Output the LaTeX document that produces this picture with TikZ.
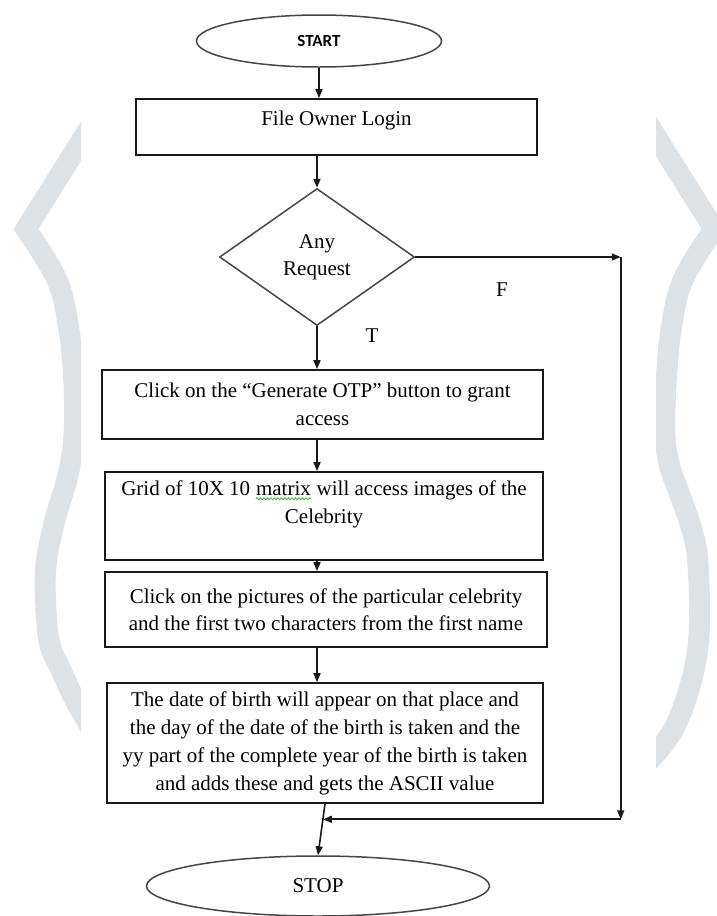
\documentclass[tikz,border=0pt]{standalone}
\usepackage{fontspec}
\setmainfont{Liberation Serif}
\newfontfamily\calfont{Carlito}
\usetikzlibrary{arrows.meta,calc,shapes.geometric,decorations.pathmorphing}
\definecolor{fLine}{RGB}{25,25,25}
\definecolor{fEdge}{RGB}{70,70,70}
\definecolor{fBand}{RGB}{221,226,230}
\definecolor{fSquig}{RGB}{70,175,70}
\newcommand{\squig}[1]{\tikz[baseline=(sq.base)]{%
  \node[draw=none, shape=rectangle, minimum size=0pt, inner sep=0pt] (sq) {#1};
  \draw[fSquig, line width=0.8pt, decorate,
        decoration={snake, amplitude=1pt, segment length=3.5pt}]
    ([yshift=-2.5pt]sq.south west) -- ([yshift=-2.5pt]sq.south east);}}
\tikzset{
  proc/.style={rectangle, draw=fLine, line width=1.7pt, align=center,
               font=\fontsize{21}{27.5}\selectfont, inner sep=0pt},
  decision/.style={diamond, draw=fEdge, line width=1.5pt, align=center,
                   inner sep=0pt, font=\fontsize{21}{27}\selectfont},
  term/.style={ellipse, draw=fEdge, line width=1.5pt, inner sep=0pt},
  flow/.style={-{Triangle[length=9pt,width=7pt]}, draw=fLine, line width=1.6pt},
  lbl/.style={font=\fontsize{21}{24}\selectfont, inner sep=0pt},
  band/.style={draw=fBand, line width=21pt, line join=miter, miter limit=6},
}

\begin{document}
\begin{tikzpicture}[x=1pt, y=-1pt]
  \useasboundingbox (0,0) rectangle (717,916);
  % page border swirls
  \begin{scope}
    \clip (0,0) rectangle (81,916);
    \draw[band] (100,111) -- plot[smooth, tension=0.6] coordinates {(26,229)
      (57,280) (69,330) (74,385) (74,436) (68,475) (55,520) (46,565)
      (46,610) (50,645) (61,670) (75,700) (95,735)};
  \end{scope}
  \begin{scope}
    \clip (656,0) rectangle (717,916);
    \draw[band] (640,111) -- plot[smooth, tension=0.6] coordinates {(714,229)
      (683,280) (671,330) (666,385) (665,436) (670,467) (680,495) (692,530)
      (698,564) (699,635) (690,686) (672,732) (645,765)};
  \end{scope}
  % main flow
  \node[term, minimum width=245, minimum height=52,
        font=\calfont\bfseries\fontsize{17}{20}\selectfont] (start) at (319,41) {START};
  \node[proc, minimum width=401, minimum height=56, text depth=18pt] (login) at (336.5,127)
    {File Owner Login};
  \node[decision, minimum width=195, minimum height=137] (req) at (317,257) {Any\\Request};
  \node[proc, minimum width=441, minimum height=69] (otp) at (322.5,404.5)
    {Click on the ``Generate OTP'' button to grant\\access};
  \node[proc, minimum width=438, minimum height=88] (grid) at (324,516)
    {Grid of 10X 10 \squig{matrix} will access images of the\\Celebrity\\\mbox{}};
  \node[proc, minimum width=442, minimum height=75] (pick) at (326,609.5)
    {Click on the pictures of the particular celebrity\\and the first two characters from the first name};
  \node[proc, minimum width=436, minimum height=120,
        font=\fontsize{21}{28}\selectfont] (dob) at (325,743)
    {The date of birth will appear on that place and\\the day of the date of the birth is taken and the\\yy part of the complete year of the birth is taken\\and adds these and gets the ASCII value};
  \node[term, minimum width=343, minimum height=60,
        font=\fontsize{21}{24}\selectfont] (stop) at (318,886) {STOP};
  % branch labels
  \node[lbl] (lblF) at (502,290) {F};
  \node[lbl] (lblT) at (372,336) {T};
  % joints of the false branch
  \coordinate (mrg) at ($(dob.south)!0.3!(stop.north)$);
  \coordinate (rt) at ($(req.east)+(205.5,0)$);
  % connectors
  \draw[flow] (start.south) -- (start.south |- login.north);
  \draw[flow] (login.south -| req) -- (req.north);
  \draw[flow] (req.south) -- (req.south |- otp.north);
  \draw[flow] (otp.south -| req) -- (grid.north -| req);
  \draw[flow] (grid.south -| req) -- (pick.north -| req);
  \draw[flow] (pick.south -| req) -- (dob.north -| req);
  \draw[flow] (dob.south) -- (stop.north);
  \draw[flow] (req.east) -- (rt);
  \draw[flow] (rt) -- (rt |- mrg);
  \draw[flow] (rt |- mrg) -- (mrg);
\end{tikzpicture}
\end{document}
